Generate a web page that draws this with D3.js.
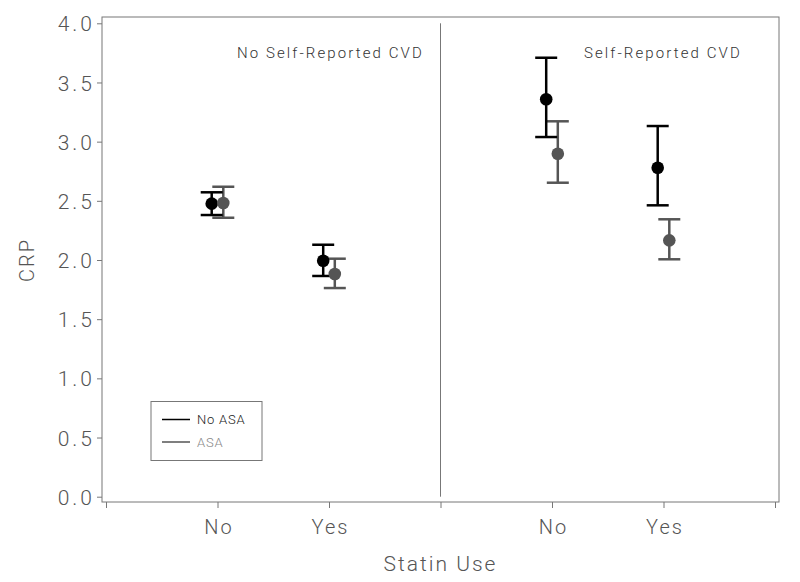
<!DOCTYPE html>
<html><head><meta charset="utf-8">
<script src="https://cdn.jsdelivr.net/npm/d3@7"></script>
<style>
html,body{margin:0;padding:0;background:#fff;}
text{font-family:"Roboto","DejaVu Sans",sans-serif;font-weight:300;}
</style></head>
<body><svg id="c" width="800" height="582"></svg>
<script>
// Data
const panels = ["No Self-Reported CVD", "Self-Reported CVD"];
const statinLabels = ["No", "Yes"];
const seriesNames = ["No ASA", "ASA"];
const seriesColors = ["#000000", "#555555"];
const yTicks = [0.0, 0.5, 1.0, 1.5, 2.0, 2.5, 3.0, 3.5, 4.0];
// positions on a continuous axis: panel1 No=1, Yes=2 ; divider=3 ; panel2 No=4, Yes=5
const xPos = [1, 2, 4, 5];
const noAsaMean  = [2.476, 1.994, 3.358, 2.780];
const noAsaLower = [2.380, 1.865, 3.039, 2.462];
const noAsaUpper = [2.572, 2.129, 3.709, 3.132];
const asaMean    = [2.482, 1.882, 2.898, 2.166];
const asaLower   = [2.357, 1.763, 2.653, 2.006];
const asaUpper   = [2.619, 2.011, 3.172, 2.344];

const svg = d3.select("#c");
const frame = {l:102, t:17, r:779, b:502};
const x = d3.scaleLinear().domain([0, 6]).range([106, 775]);
const y = d3.scaleLinear().domain([0, 4]).range([496.7, 23.3]);
const axisCol = "#777";
const textCol = "#555";

// frame
svg.append("rect").attr("x", frame.l).attr("y", frame.t)
  .attr("width", frame.r - frame.l).attr("height", frame.b - frame.t)
  .attr("fill", "none").attr("stroke", axisCol).attr("stroke-width", 1);

// y axis
const yAxis = d3.axisLeft(y).tickValues(yTicks).tickFormat(d3.format(".1f")).tickSize(5).tickPadding(2);
const gy = svg.append("g").attr("transform", `translate(${frame.l},0)`).call(yAxis);
gy.select(".domain").remove();
gy.selectAll("line").attr("stroke", axisCol);
gy.selectAll("text").attr("fill", textCol).style("font-size", "21px")
  .style("letter-spacing", "3px").attr("dy", "0.36em");

// x axis
const xAxis = d3.axisBottom(x).tickValues([0,1,2,3,4,5,6])
  .tickFormat(d => { const i = xPos.indexOf(d); return i >= 0 ? statinLabels[i % 2] : ""; })
  .tickSize(6).tickPadding(12);
const gx = svg.append("g").attr("transform", `translate(0,${frame.b})`).call(xAxis);
gx.select(".domain").remove();
gx.selectAll("line").attr("stroke", axisCol);
gx.selectAll("text").attr("fill", textCol).style("font-size", "20px")
  .style("letter-spacing", "2px").attr("dx", "1px");

// divider
svg.append("line").attr("x1", x(3)).attr("x2", x(3)).attr("y1", y(4)).attr("y2", y(0))
  .attr("stroke", axisCol).attr("stroke-width", 1);

// panel titles
svg.append("text").attr("x", 237).attr("y", 58).attr("text-anchor", "start")
  .attr("fill", "#333").style("font-size", "15px").style("letter-spacing", "2.1px").text(panels[0]);
svg.append("text").attr("x", 584).attr("y", 58).attr("text-anchor", "start")
  .attr("fill", "#333").style("font-size", "15px").style("letter-spacing", "2.1px").text(panels[1]);

// axis titles
svg.append("text").attr("transform", `translate(34,${(y(0)+y(4))/2}) rotate(-90)`)
  .attr("text-anchor", "middle").attr("fill", textCol).style("font-size", "20px")
  .style("letter-spacing", "2px").text("CRP");
svg.append("text").attr("x", x(3)).attr("y", 571).attr("text-anchor", "middle")
  .attr("fill", textCol).style("font-size", "21px").style("letter-spacing", "2px").text("Statin Use");

// error bars + points
const series = [
  {name: seriesNames[0], mean: noAsaMean, lo: noAsaLower, hi: noAsaUpper, off: -5.8, col: seriesColors[0]},
  {name: seriesNames[1], mean: asaMean, lo: asaLower, hi: asaUpper, off: 5.8, col: seriesColors[1]}
];
const capW = 11;
series.slice().reverse().forEach(s => {
  const g = svg.append("g");
  xPos.forEach((p, i) => {
    const cx = x(p) + s.off;
    g.append("line").attr("x1", cx).attr("x2", cx).attr("y1", y(s.lo[i])).attr("y2", y(s.hi[i]))
      .attr("stroke", s.col).attr("stroke-width", 2.5);
    [s.lo[i], s.hi[i]].forEach(v => {
      g.append("line").attr("x1", cx - capW).attr("x2", cx + capW).attr("y1", y(v)).attr("y2", y(v))
        .attr("stroke", s.col).attr("stroke-width", 2.5);
    });
  });
});
series.forEach(s => {
  xPos.forEach((p, i) => {
    svg.append("circle").attr("cx", x(p) + s.off).attr("cy", y(s.mean[i])).attr("r", 6.3).attr("fill", s.col);
  });
});

// legend
const lg = svg.append("g");
lg.append("rect").attr("x", 151).attr("y", 401.5).attr("width", 111).attr("height", 59)
  .attr("fill", "#fff").attr("stroke", axisCol).attr("stroke-width", 1);
const legTextCols = ["#222", "#888"];
seriesNames.forEach((n, i) => {
  const ly = 419.5 + i * 22.5;
  lg.append("line").attr("x1", 162).attr("x2", 190).attr("y1", ly).attr("y2", ly)
    .attr("stroke", seriesColors[i]).attr("stroke-width", 1.5);
  lg.append("text").attr("x", 197).attr("y", ly).attr("dy", "0.35em")
    .attr("fill", legTextCols[i]).style("font-size", "13px").style("letter-spacing", "0.8px").text(n);
});
</script></body></html>
